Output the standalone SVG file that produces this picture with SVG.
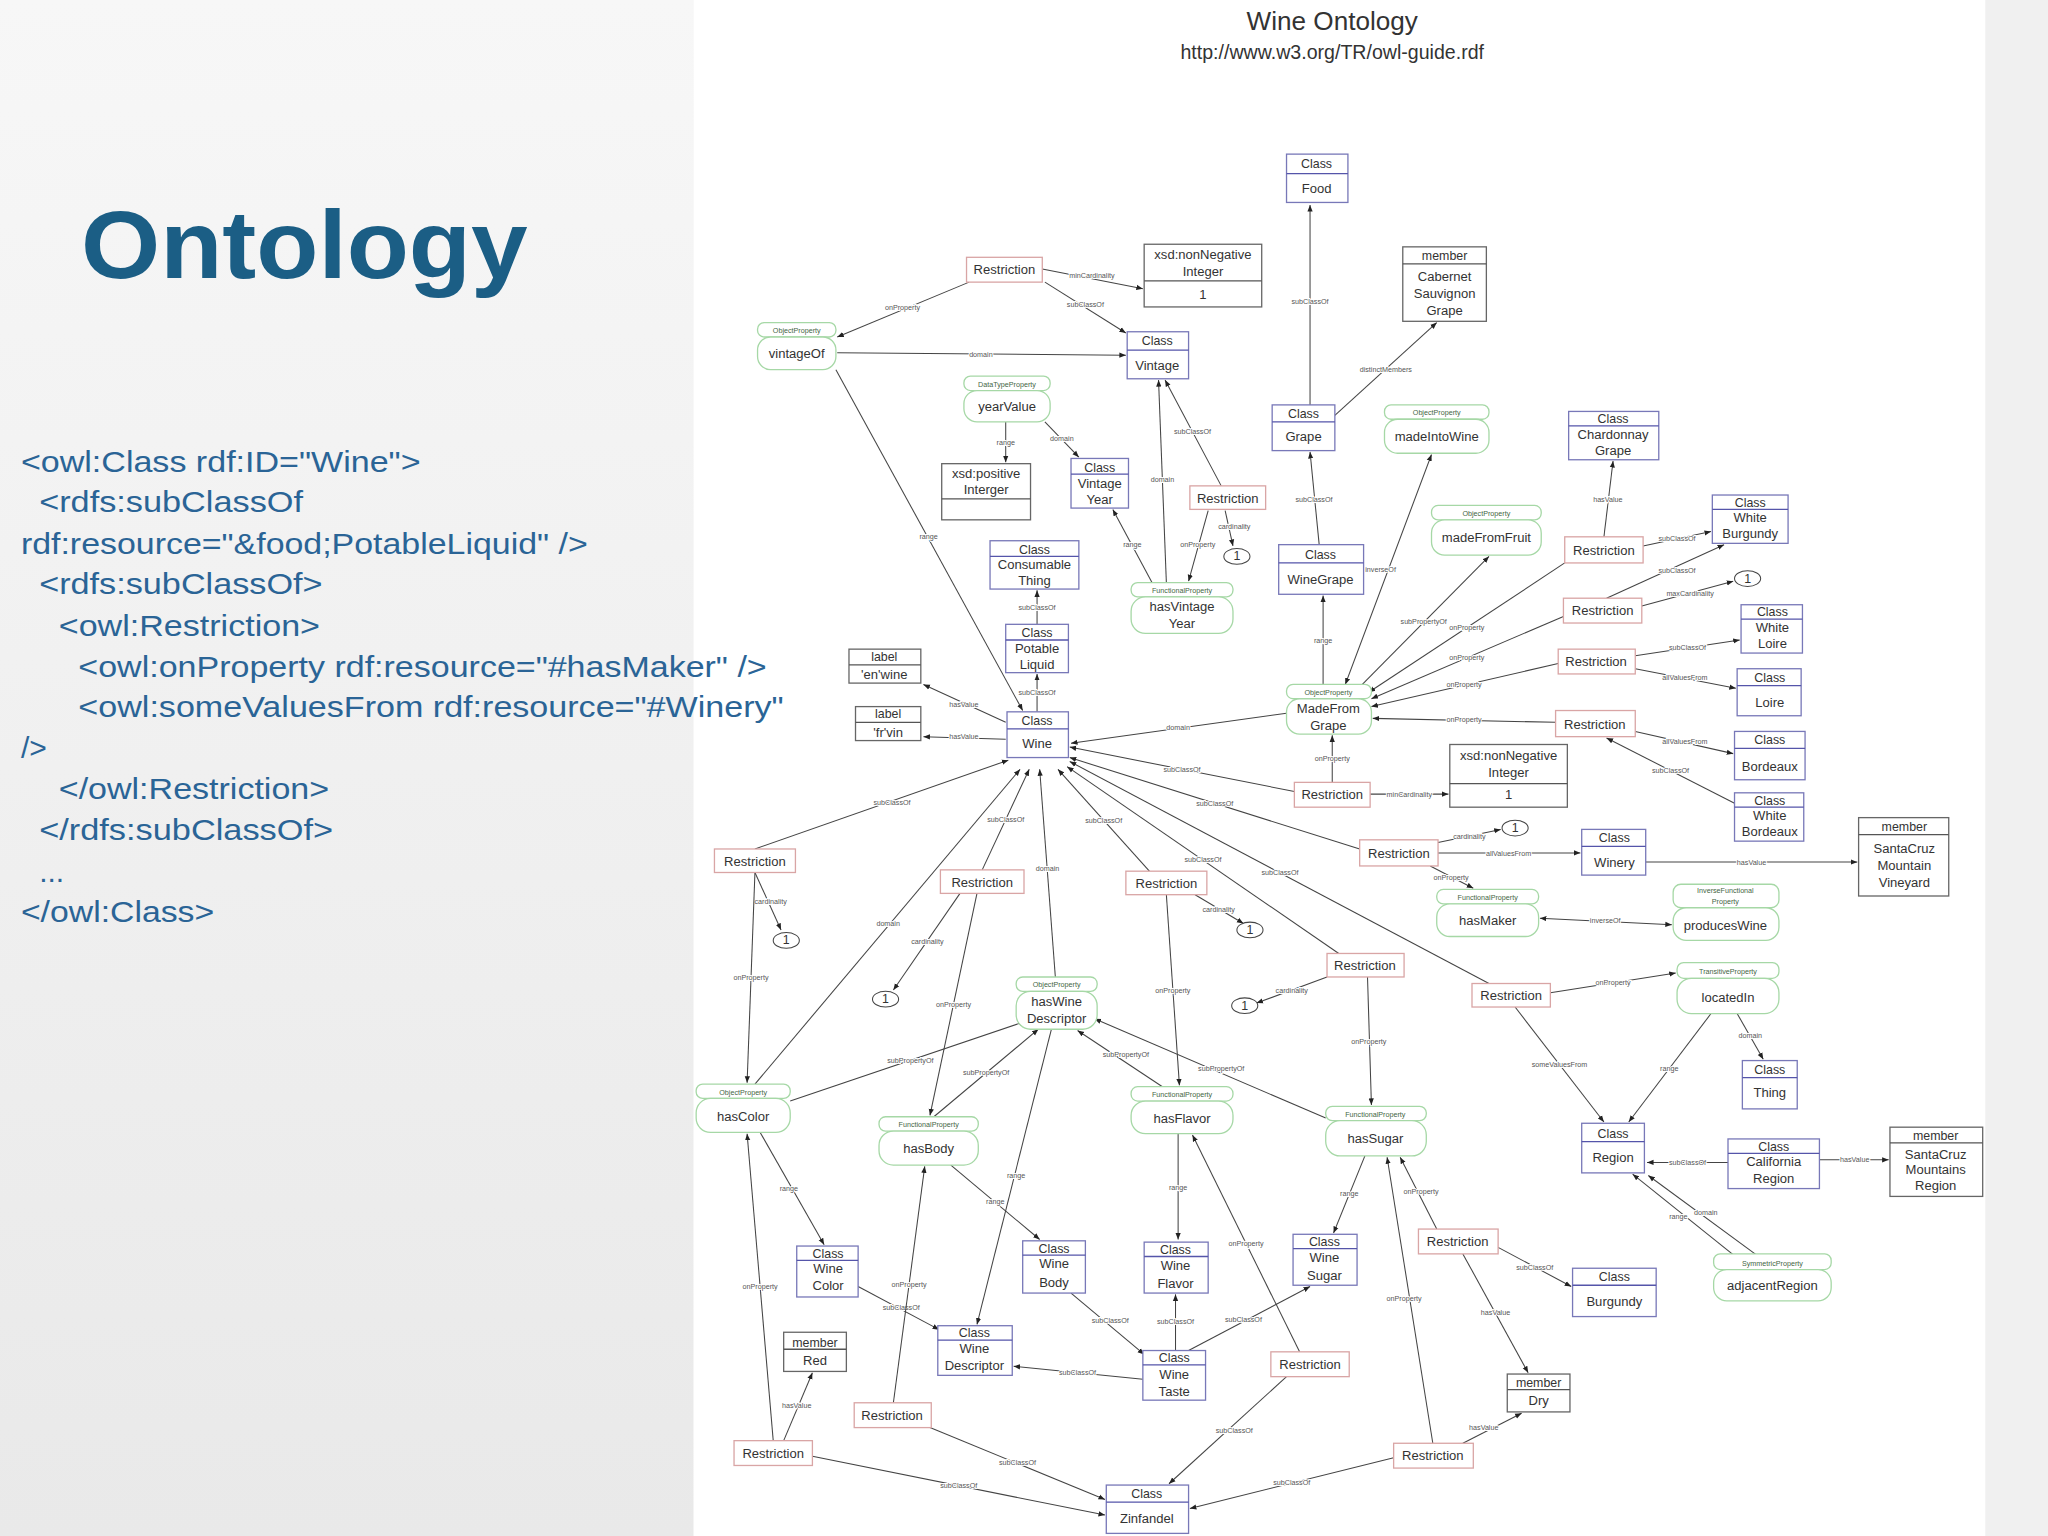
<svg xmlns="http://www.w3.org/2000/svg" width="2048" height="1536" viewBox="0 0 2048 1536">
<defs>
<linearGradient id="bg" x1="0" y1="0" x2="0" y2="1"><stop offset="0" stop-color="#f7f7f7"/><stop offset="1" stop-color="#e9e9e9"/></linearGradient>
<marker id="a" viewBox="0 0 10 10" refX="10" refY="5" markerWidth="5" markerHeight="5" orient="auto-start-reverse" markerUnits="userSpaceOnUse"><path d="M0,1 L10,5 L0,9 z" fill="#222"/></marker>
<style>
.c{fill:#fff;stroke:#7878b8;stroke-width:1}
.cd{stroke:#5555aa;stroke-width:1}
.l{fill:#fff;stroke:#666;stroke-width:1}
.ld{stroke:#555;stroke-width:1}
.r{fill:#fff;stroke:#d9a5a5;stroke-width:1}
.p{fill:#fff;stroke:#a6d8a6;stroke-width:1}
.o{fill:#fff;stroke:#444;stroke-width:0.8}
text{font-family:"Liberation Sans",Arial,sans-serif;text-anchor:middle;fill:#333}
.h{font-size:9.5px}
.t{font-size:10px}
.ph{font-size:5.5px;fill:#446644}
.e{font-size:5.5px;fill:#555;stroke:#fff;stroke-width:1.5px;paint-order:stroke}
.code{font-size:23px;fill:#2a6496;text-anchor:start;white-space:pre}
#edges line{stroke:#444;stroke-width:0.8;marker-end:url(#a)}
</style>
</defs>
<g transform="scale(1.306122)">
<rect x="0" y="0" width="1568" height="1176" fill="#f0f0f0"/>
<rect x="0" y="0" width="531" height="1176" fill="url(#bg)"/>
<rect x="531" y="0" width="989" height="1176" fill="#fff"/>
<text x="62" y="213" textLength="342" lengthAdjust="spacingAndGlyphs" style="font-size:74px;font-weight:bold;fill:#1b5e85;text-anchor:start">Ontology</text>
<g id="code">
<text class="code" x="16" y="361" textLength="306" lengthAdjust="spacingAndGlyphs">&lt;owl:Class rdf:ID="Wine"&gt;</text>
<text class="code" x="30" y="392" textLength="202" lengthAdjust="spacingAndGlyphs">&lt;rdfs:subClassOf</text>
<text class="code" x="16" y="424" textLength="434" lengthAdjust="spacingAndGlyphs">rdf:resource="&amp;food;PotableLiquid" /&gt;</text>
<text class="code" x="30" y="455" textLength="217" lengthAdjust="spacingAndGlyphs">&lt;rdfs:subClassOf&gt;</text>
<text class="code" x="45" y="487" textLength="200" lengthAdjust="spacingAndGlyphs">&lt;owl:Restriction&gt;</text>
<text class="code" x="60" y="518" textLength="527" lengthAdjust="spacingAndGlyphs">&lt;owl:onProperty rdf:resource="#hasMaker" /&gt;</text>
<text class="code" x="60" y="549" textLength="540" lengthAdjust="spacingAndGlyphs">&lt;owl:someValuesFrom rdf:resource="#Winery"</text>
<text class="code" x="16" y="580">/&gt;</text>
<text class="code" x="45" y="612" textLength="207" lengthAdjust="spacingAndGlyphs">&lt;/owl:Restriction&gt;</text>
<text class="code" x="30" y="643" textLength="225" lengthAdjust="spacingAndGlyphs">&lt;/rdfs:subClassOf&gt;</text>
<text class="code" x="30" y="675">...</text>
<text class="code" x="16" y="706" textLength="148" lengthAdjust="spacingAndGlyphs">&lt;/owl:Class&gt;</text>
</g>
<text x="1020" y="23" style="font-size:20px;fill:#333">Wine Ontology</text>
<text x="1020" y="45" style="font-size:15px;fill:#333">http://www.w3.org/TR/owl-guide.rdf</text>

<g id="edges">
<line x1="1003" y1="310" x2="1003" y2="157"/><text class="e" x="1003" y="233">subClassOf</text>
<line x1="742" y1="216" x2="641" y2="258"/><text class="e" x="691" y="237">onProperty</text>
<line x1="798" y1="206" x2="875" y2="221"/><text class="e" x="836" y="213">minCardinality</text>
<line x1="800" y1="216" x2="862" y2="255"/><text class="e" x="831" y="235">subClassOf</text>
<line x1="641" y1="270" x2="862" y2="272"/><text class="e" x="751" y="273">domain</text>
<line x1="640" y1="283" x2="783" y2="544"/><text class="e" x="711" y="413">range</text>
<line x1="770" y1="323" x2="770" y2="354"/><text class="e" x="770" y="341">range</text>
<line x1="800" y1="323" x2="826" y2="350"/><text class="e" x="813" y="338">domain</text>
<line x1="893" y1="446" x2="887" y2="291"/><text class="e" x="890" y="369">domain</text>
<line x1="935" y1="372" x2="892" y2="291"/><text class="e" x="913" y="332">subClassOf</text>
<line x1="882" y1="446" x2="852" y2="390"/><text class="e" x="867" y="419">range</text>
<line x1="925" y1="391" x2="910" y2="445"/><text class="e" x="917" y="419">onProperty</text>
<line x1="938" y1="391" x2="944" y2="418"/><text class="e" x="945" y="405">cardinality</text>
<line x1="794" y1="478" x2="794" y2="452"/><text class="e" x="794" y="467">subClassOf</text>
<line x1="794" y1="545" x2="794" y2="516"/><text class="e" x="794" y="532">subClassOf</text>
<line x1="770" y1="553" x2="707" y2="524"/><text class="e" x="738" y="541">hasValue</text>
<line x1="770" y1="566" x2="707" y2="564"/><text class="e" x="738" y="566">hasValue</text>
<line x1="1022" y1="318" x2="1100" y2="247"/><text class="e" x="1061" y="285">distinctMembers</text>
<line x1="1010" y1="417" x2="1003" y2="346"/><text class="e" x="1006" y="384">subClassOf</text>
<line x1="1013" y1="524" x2="1013" y2="456"/><text class="e" x="1013" y="492">range</text>
<line x1="1030" y1="524" x2="1096" y2="348" marker-start="url(#a)"/><text class="e" x="1057" y="438">inverseOf</text>
<line x1="1040" y1="527" x2="1140" y2="426"/><text class="e" x="1090" y="478">subPropertyOf</text>
<line x1="1198" y1="431" x2="1048" y2="530"/><text class="e" x="1123" y="482">onProperty</text>
<line x1="1228" y1="411" x2="1235" y2="353"/><text class="e" x="1231" y="384">hasValue</text>
<line x1="1258" y1="418" x2="1310" y2="407"/><text class="e" x="1284" y="414">subClassOf</text>
<line x1="1197" y1="472" x2="1050" y2="535"/><text class="e" x="1123" y="505">onProperty</text>
<line x1="1230" y1="458" x2="1320" y2="417"/><text class="e" x="1284" y="439">subClassOf</text>
<line x1="1257" y1="464" x2="1327" y2="445"/><text class="e" x="1294" y="456">maxCardinality</text>
<line x1="1193" y1="508" x2="1050" y2="541"/><text class="e" x="1121" y="526">onProperty</text>
<line x1="1252" y1="502" x2="1332" y2="490"/><text class="e" x="1292" y="498">subClassOf</text>
<line x1="1252" y1="512" x2="1329" y2="527"/><text class="e" x="1290" y="521">allValuesFrom</text>
<line x1="1191" y1="553" x2="1051" y2="550"/><text class="e" x="1121" y="553">onProperty</text>
<line x1="1252" y1="560" x2="1327" y2="577"/><text class="e" x="1290" y="570">allValuesFrom</text>
<line x1="1328" y1="615" x2="1230" y2="565"/><text class="e" x="1279" y="592">subClassOf</text>
<line x1="1020" y1="599" x2="1020" y2="563"/><text class="e" x="1020" y="583">onProperty</text>
<line x1="1049" y1="608" x2="1109" y2="608"/><text class="e" x="1079" y="610">minCardinality</text>
<line x1="991" y1="606" x2="819" y2="572"/><text class="e" x="905" y="591">subClassOf</text>
<line x1="985" y1="546" x2="820" y2="569"/><text class="e" x="902" y="559">domain</text>
<line x1="1041" y1="650" x2="819" y2="580"/><text class="e" x="930" y="617">subClassOf</text>
<line x1="1101" y1="645" x2="1149" y2="635"/><text class="e" x="1125" y="642">cardinality</text>
<line x1="1101" y1="653" x2="1210" y2="653"/><text class="e" x="1155" y="655">allValuesFrom</text>
<line x1="1095" y1="663" x2="1128" y2="680"/><text class="e" x="1111" y="674">onProperty</text>
<line x1="1260" y1="660" x2="1422" y2="660"/><text class="e" x="1341" y="662">hasValue</text>
<line x1="1179" y1="703" x2="1280" y2="708" marker-start="url(#a)"/><text class="e" x="1229" y="707">inverseOf</text>
<line x1="1140" y1="753" x2="819" y2="583"/><text class="e" x="980" y="670">subClassOf</text>
<line x1="1187" y1="760" x2="1283" y2="745"/><text class="e" x="1235" y="754">onProperty</text>
<line x1="1160" y1="771" x2="1228" y2="859"/><text class="e" x="1194" y="817">someValuesFrom</text>
<line x1="1310" y1="776" x2="1247" y2="859"/><text class="e" x="1278" y="820">range</text>
<line x1="1330" y1="776" x2="1350" y2="811"/><text class="e" x="1340" y="795">domain</text>
<line x1="1323" y1="890" x2="1261" y2="890"/><text class="e" x="1292" y="892">subClassOf</text>
<line x1="1393" y1="888" x2="1446" y2="888"/><text class="e" x="1420" y="890">hasValue</text>
<line x1="1330" y1="963" x2="1250" y2="899"/><text class="e" x="1285" y="933">range</text>
<line x1="1345" y1="961" x2="1262" y2="900"/><text class="e" x="1306" y="930">domain</text>
<line x1="1025" y1="730" x2="817" y2="587"/><text class="e" x="921" y="660">subClassOf</text>
<line x1="1016" y1="748" x2="962" y2="768"/><text class="e" x="989" y="760">cardinality</text>
<line x1="1047" y1="748" x2="1050" y2="846"/><text class="e" x="1048" y="799">onProperty</text>
<line x1="880" y1="667" x2="810" y2="589"/><text class="e" x="845" y="630">subClassOf</text>
<line x1="915" y1="685" x2="952" y2="707"/><text class="e" x="933" y="698">cardinality</text>
<line x1="893" y1="685" x2="903" y2="831"/><text class="e" x="898" y="760">onProperty</text>
<line x1="752" y1="666" x2="788" y2="589"/><text class="e" x="770" y="629">subClassOf</text>
<line x1="735" y1="684" x2="684" y2="758"/><text class="e" x="710" y="723">cardinality</text>
<line x1="748" y1="684" x2="712" y2="854"/><text class="e" x="730" y="771">onProperty</text>
<line x1="578" y1="650" x2="772" y2="582"/><text class="e" x="683" y="616">subClassOf</text>
<line x1="578" y1="668" x2="598" y2="712"/><text class="e" x="590" y="692">cardinality</text>
<line x1="578" y1="668" x2="572" y2="829"/><text class="e" x="575" y="750">onProperty</text>
<line x1="578" y1="830" x2="781" y2="589"/><text class="e" x="680" y="709">domain</text>
<line x1="808" y1="748" x2="796" y2="589"/><text class="e" x="802" y="667">domain</text>
<line x1="605" y1="843" x2="785" y2="782"/><text class="e" x="697" y="814">subPropertyOf</text>
<line x1="715" y1="855" x2="795" y2="788"/><text class="e" x="755" y="823">subPropertyOf</text>
<line x1="890" y1="832" x2="825" y2="789"/><text class="e" x="862" y="809">subPropertyOf</text>
<line x1="1015" y1="856" x2="838" y2="780"/><text class="e" x="935" y="820">subPropertyOf</text>
<line x1="805" y1="788" x2="748" y2="1014"/><text class="e" x="778" y="902">range</text>
<line x1="582" y1="867" x2="631" y2="953"/><text class="e" x="604" y="912">range</text>
<line x1="728" y1="892" x2="796" y2="949"/><text class="e" x="762" y="922">range</text>
<line x1="902" y1="868" x2="902" y2="949"/><text class="e" x="902" y="911">range</text>
<line x1="1045" y1="885" x2="1021" y2="944"/><text class="e" x="1033" y="916">range</text>
<line x1="657" y1="985" x2="719" y2="1018"/><text class="e" x="690" y="1003">subClassOf</text>
<line x1="875" y1="1056" x2="776" y2="1046"/><text class="e" x="825" y="1053">subClassOf</text>
<line x1="820" y1="990" x2="876" y2="1037"/><text class="e" x="850" y="1013">subClassOf</text>
<line x1="900" y1="1034" x2="900" y2="991"/><text class="e" x="900" y="1014">subClassOf</text>
<line x1="910" y1="1034" x2="1003" y2="985"/><text class="e" x="952" y="1012">subClassOf</text>
<line x1="592" y1="1103" x2="572" y2="868"/><text class="e" x="582" y="987">onProperty</text>
<line x1="600" y1="1103" x2="622" y2="1051"/><text class="e" x="610" y="1078">hasValue</text>
<line x1="622" y1="1115" x2="846" y2="1160"/><text class="e" x="734" y="1139">subClassOf</text>
<line x1="684" y1="1074" x2="708" y2="893"/><text class="e" x="696" y="985">onProperty</text>
<line x1="712" y1="1093" x2="846" y2="1148"/><text class="e" x="779" y="1122">subClassOf</text>
<line x1="995" y1="1035" x2="913" y2="869"/><text class="e" x="954" y="954">onProperty</text>
<line x1="985" y1="1054" x2="895" y2="1136"/><text class="e" x="945" y="1097">subClassOf</text>
<line x1="1097" y1="1105" x2="1062" y2="886"/><text class="e" x="1075" y="996">onProperty</text>
<line x1="1067" y1="1116" x2="911" y2="1155"/><text class="e" x="989" y="1137">subClassOf</text>
<line x1="1100" y1="941" x2="1072" y2="886"/><text class="e" x="1088" y="914">onProperty</text>
<line x1="1147" y1="955" x2="1203" y2="985"/><text class="e" x="1175" y="972">subClassOf</text>
<line x1="1120" y1="960" x2="1170" y2="1051"/><text class="e" x="1145" y="1007">hasValue</text>
<line x1="1120" y1="1105" x2="1165" y2="1082"/><text class="e" x="1136" y="1095">hasValue</text>
</g>

<g id="nodes">
<g id="food"><rect class="c" x="985" y="118" width="47" height="37"/><line class="cd" x1="985" y1="133" x2="1032" y2="133"/><text class="h" x="1008" y="129">Class</text><text class="t" x="1008" y="148">Food</text></g>
<g id="r-vintage"><rect class="r" x="740" y="197" width="58" height="19"/><text class="t" x="769" y="210">Restriction</text></g>
<g id="nni1"><rect class="l" x="876" y="187" width="90" height="48"/><line class="ld" x1="876" y1="215" x2="966" y2="215"/><text class="t" x="921" y="198">xsd:nonNegative</text><text class="t" x="921" y="211">Integer</text><text class="t" x="921" y="229">1</text></g>
<g id="cabernet"><rect class="l" x="1074" y="189" width="64" height="57"/><line class="ld" x1="1074" y1="202" x2="1138" y2="202"/><text class="h" x="1106" y="199">member</text><text class="t" x="1106" y="215">Cabernet</text><text class="t" x="1106" y="228">Sauvignon</text><text class="t" x="1106" y="241">Grape</text></g>
<g id="vintageOf"><rect class="p" x="580" y="247" width="60" height="11" rx="5"/><text class="ph" x="610" y="255">ObjectProperty</text><rect class="p" x="580" y="258" width="60" height="25" rx="10"/><text class="t" x="610" y="274">vintageOf</text></g>
<g id="vintage"><rect class="c" x="863" y="254" width="47" height="36"/><line class="cd" x1="863" y1="268" x2="910" y2="268"/><text class="h" x="886" y="264">Class</text><text class="t" x="886" y="283">Vintage</text></g>
<g id="yearValue"><rect class="p" x="738" y="288" width="66" height="11" rx="5"/><text class="ph" x="771" y="296">DataTypeProperty</text><rect class="p" x="738" y="299" width="66" height="24" rx="10"/><text class="t" x="771" y="315">yearValue</text></g>
<g id="posint"><rect class="l" x="721" y="355" width="68" height="43"/><line class="ld" x1="721" y1="382" x2="789" y2="382"/><text class="t" x="755" y="366">xsd:positive</text><text class="t" x="755" y="378">Interger</text></g>
<g id="vintageYear"><rect class="c" x="820" y="351" width="44" height="38"/><line class="cd" x1="820" y1="363" x2="864" y2="363"/><text class="h" x="842" y="361">Class</text><text class="t" x="842" y="374">Vintage</text><text class="t" x="842" y="386">Year</text></g>
<g id="r-vy"><rect class="r" x="911" y="372" width="58" height="18"/><text class="t" x="940" y="385">Restriction</text></g>
<g id="one1"><ellipse class="o" cx="947" cy="426" rx="10" ry="6"/><text class="h" x="947" y="429">1</text></g>
<g id="hasVintageYear"><rect class="p" x="866" y="446" width="78" height="11" rx="5"/><text class="ph" x="905" y="454">FunctionalProperty</text><rect class="p" x="866" y="457" width="78" height="28" rx="11"/><text class="t" x="905" y="468">hasVintage</text><text class="t" x="905" y="481">Year</text></g>
<g id="consumable"><rect class="c" x="758" y="414" width="68" height="37"/><line class="cd" x1="758" y1="426" x2="826" y2="426"/><text class="h" x="792" y="424">Class</text><text class="t" x="792" y="436">Consumable</text><text class="t" x="792" y="448">Thing</text></g>
<g id="potable"><rect class="c" x="770" y="478" width="48" height="37"/><line class="cd" x1="770" y1="490" x2="818" y2="490"/><text class="h" x="794" y="488">Class</text><text class="t" x="794" y="500">Potable</text><text class="t" x="794" y="512">Liquid</text></g>
<g id="label-en"><rect class="l" x="650" y="497" width="55" height="26"/><line class="ld" x1="650" y1="509" x2="705" y2="509"/><text class="h" x="677" y="506">label</text><text class="t" x="677" y="520">'en'wine</text></g>
<g id="label-fr"><rect class="l" x="655" y="541" width="50" height="26"/><line class="ld" x1="655" y1="553" x2="705" y2="553"/><text class="h" x="680" y="550">label</text><text class="t" x="680" y="564">'fr'vin</text></g>
<g id="wine"><rect class="c" x="771" y="545" width="47" height="35"/><line class="cd" x1="771" y1="558" x2="818" y2="558"/><text class="h" x="794" y="555">Class</text><text class="t" x="794" y="573">Wine</text></g>
<g id="grape"><rect class="c" x="974" y="310" width="48" height="35"/><line class="cd" x1="974" y1="323" x2="1022" y2="323"/><text class="h" x="998" y="320">Class</text><text class="t" x="998" y="338">Grape</text></g>
<g id="madeIntoWine"><rect class="p" x="1060" y="310" width="80" height="11" rx="5"/><text class="ph" x="1100" y="318">ObjectProperty</text><rect class="p" x="1060" y="321" width="80" height="26" rx="10"/><text class="t" x="1100" y="338">madeIntoWine</text></g>
<g id="chardonnay"><rect class="c" x="1201" y="315" width="69" height="37"/><line class="cd" x1="1201" y1="326" x2="1270" y2="326"/><text class="h" x="1235" y="324">Class</text><text class="t" x="1235" y="336">Chardonnay</text><text class="t" x="1235" y="348">Grape</text></g>
<g id="wineGrape"><rect class="c" x="979" y="417" width="65" height="38"/><line class="cd" x1="979" y1="431" x2="1044" y2="431"/><text class="h" x="1011" y="428">Class</text><text class="t" x="1011" y="447">WineGrape</text></g>
<g id="madeFromFruit"><rect class="p" x="1096" y="387" width="84" height="11" rx="5"/><text class="ph" x="1138" y="395">ObjectProperty</text><rect class="p" x="1096" y="398" width="84" height="27" rx="10"/><text class="t" x="1138" y="415">madeFromFruit</text></g>
<g id="whiteBurgundy"><rect class="c" x="1311" y="379" width="58" height="37"/><line class="cd" x1="1311" y1="390" x2="1369" y2="390"/><text class="h" x="1340" y="388">Class</text><text class="t" x="1340" y="400">White</text><text class="t" x="1340" y="412">Burgundy</text></g>
<g id="r-wb"><rect class="r" x="1198" y="411" width="60" height="20"/><text class="t" x="1228" y="425">Restriction</text></g>
<g id="one2"><ellipse class="o" cx="1338" cy="443" rx="10" ry="6"/><text class="h" x="1338" y="446">1</text></g>
<g id="r-max"><rect class="r" x="1197" y="458" width="60" height="19"/><text class="t" x="1227" y="471">Restriction</text></g>
<g id="whiteLoire"><rect class="c" x="1333" y="463" width="47" height="37"/><line class="cd" x1="1333" y1="474" x2="1380" y2="474"/><text class="h" x="1357" y="472">Class</text><text class="t" x="1357" y="484">White</text><text class="t" x="1357" y="496">Loire</text></g>
<g id="r-wl"><rect class="r" x="1193" y="497" width="59" height="19"/><text class="t" x="1222" y="510">Restriction</text></g>
<g id="loire"><rect class="c" x="1330" y="512" width="49" height="36"/><line class="cd" x1="1330" y1="525" x2="1379" y2="525"/><text class="h" x="1355" y="522">Class</text><text class="t" x="1355" y="541">Loire</text></g>
<g id="madeFromGrape"><rect class="p" x="985" y="524" width="65" height="11" rx="5"/><text class="ph" x="1017" y="532">ObjectProperty</text><rect class="p" x="985" y="535" width="65" height="27" rx="10"/><text class="t" x="1017" y="546">MadeFrom</text><text class="t" x="1017" y="559">Grape</text></g>
<g id="r-bord"><rect class="r" x="1191" y="544" width="61" height="20"/><text class="t" x="1221" y="558">Restriction</text></g>
<g id="bordeaux"><rect class="c" x="1328" y="560" width="54" height="37"/><line class="cd" x1="1328" y1="573" x2="1382" y2="573"/><text class="h" x="1355" y="570">Class</text><text class="t" x="1355" y="590">Bordeaux</text></g>
<g id="whiteBordeaux"><rect class="c" x="1328" y="607" width="53" height="37"/><line class="cd" x1="1328" y1="618" x2="1381" y2="618"/><text class="h" x="1355" y="616">Class</text><text class="t" x="1355" y="628">White</text><text class="t" x="1355" y="640">Bordeaux</text></g>
<g id="r-mfg"><rect class="r" x="991" y="599" width="58" height="19"/><text class="t" x="1020" y="612">Restriction</text></g>
<g id="nni2"><rect class="l" x="1110" y="570" width="90" height="48"/><line class="ld" x1="1110" y1="600" x2="1200" y2="600"/><text class="t" x="1155" y="582">xsd:nonNegative</text><text class="t" x="1155" y="595">Integer</text><text class="t" x="1155" y="612">1</text></g>
<g id="r-maker"><rect class="r" x="1041" y="643" width="60" height="20"/><text class="t" x="1071" y="657">Restriction</text></g>
<g id="one3"><ellipse class="o" cx="1160" cy="634" rx="10" ry="6"/><text class="h" x="1160" y="637">1</text></g>
<g id="winery"><rect class="c" x="1211" y="635" width="49" height="35"/><line class="cd" x1="1211" y1="648" x2="1260" y2="648"/><text class="h" x="1236" y="645">Class</text><text class="t" x="1236" y="664">Winery</text></g>
<g id="scVineyard"><rect class="l" x="1423" y="626" width="69" height="60"/><line class="ld" x1="1423" y1="639" x2="1492" y2="639"/><text class="h" x="1458" y="636">member</text><text class="t" x="1458" y="653">SantaCruz</text><text class="t" x="1458" y="666">Mountain</text><text class="t" x="1458" y="679">Vineyard</text></g>
<g id="hasMaker"><rect class="p" x="1100" y="681" width="78" height="11" rx="5"/><text class="ph" x="1139" y="689">FunctionalProperty</text><rect class="p" x="1100" y="692" width="78" height="25" rx="10"/><text class="t" x="1139" y="708">hasMaker</text></g>
<g id="producesWine"><rect class="p" x="1281" y="677" width="81" height="18" rx="6"/><text class="ph" x="1321" y="684">InverseFunctional</text><text class="ph" x="1321" y="692">Property</text><rect class="p" x="1281" y="695" width="81" height="25" rx="10"/><text class="t" x="1321" y="712">producesWine</text></g>
<g id="r-color"><rect class="r" x="547" y="650" width="62" height="18"/><text class="t" x="578" y="663">Restriction</text></g>
<g id="one4"><ellipse class="o" cx="602" cy="720" rx="10" ry="6"/><text class="h" x="602" y="723">1</text></g>
<g id="r-body"><rect class="r" x="720" y="666" width="64" height="18"/><text class="t" x="752" y="679">Restriction</text></g>
<g id="one5"><ellipse class="o" cx="678" cy="765" rx="10" ry="6"/><text class="h" x="678" y="768">1</text></g>
<g id="r-flavor"><rect class="r" x="862" y="667" width="62" height="18"/><text class="t" x="893" y="680">Restriction</text></g>
<g id="one6"><ellipse class="o" cx="957" cy="712" rx="10" ry="6"/><text class="h" x="957" y="715">1</text></g>
<g id="r-sugar"><rect class="r" x="1016" y="730" width="59" height="18"/><text class="t" x="1045" y="743">Restriction</text></g>
<g id="one7"><ellipse class="o" cx="953" cy="770" rx="10" ry="6"/><text class="h" x="953" y="773">1</text></g>
<g id="r-loc"><rect class="r" x="1127" y="753" width="60" height="18"/><text class="t" x="1157" y="766">Restriction</text></g>
<g id="locatedIn"><rect class="p" x="1284" y="737" width="78" height="12" rx="5"/><text class="ph" x="1323" y="746">TransitiveProperty</text><rect class="p" x="1284" y="749" width="78" height="27" rx="11"/><text class="t" x="1323" y="767">locatedIn</text></g>
<g id="hasWineDescriptor"><rect class="p" x="778" y="748" width="62" height="11" rx="5"/><text class="ph" x="809" y="756">ObjectProperty</text><rect class="p" x="778" y="759" width="62" height="29" rx="11"/><text class="t" x="809" y="770">hasWine</text><text class="t" x="809" y="783">Descriptor</text></g>
<g id="thing"><rect class="c" x="1334" y="812" width="42" height="37"/><line class="cd" x1="1334" y1="825" x2="1376" y2="825"/><text class="h" x="1355" y="822">Class</text><text class="t" x="1355" y="840">Thing</text></g>
<g id="hasColor"><rect class="p" x="533" y="830" width="72" height="11" rx="5"/><text class="ph" x="569" y="838">ObjectProperty</text><rect class="p" x="533" y="841" width="72" height="26" rx="11"/><text class="t" x="569" y="858">hasColor</text></g>
<g id="hasBody"><rect class="p" x="673" y="855" width="76" height="11" rx="5"/><text class="ph" x="711" y="863">FunctionalProperty</text><rect class="p" x="673" y="866" width="76" height="26" rx="11"/><text class="t" x="711" y="883">hasBody</text></g>
<g id="hasFlavor"><rect class="p" x="866" y="832" width="78" height="11" rx="5"/><text class="ph" x="905" y="840">FunctionalProperty</text><rect class="p" x="866" y="843" width="78" height="25" rx="11"/><text class="t" x="905" y="860">hasFlavor</text></g>
<g id="hasSugar"><rect class="p" x="1015" y="847" width="77" height="11" rx="5"/><text class="ph" x="1053" y="855">FunctionalProperty</text><rect class="p" x="1015" y="858" width="77" height="27" rx="11"/><text class="t" x="1053" y="875">hasSugar</text></g>
<g id="region"><rect class="c" x="1211" y="860" width="48" height="38"/><line class="cd" x1="1211" y1="874" x2="1259" y2="874"/><text class="h" x="1235" y="871">Class</text><text class="t" x="1235" y="890">Region</text></g>
<g id="california"><rect class="c" x="1323" y="872" width="70" height="38"/><line class="cd" x1="1323" y1="883" x2="1393" y2="883"/><text class="h" x="1358" y="881">Class</text><text class="t" x="1358" y="893">California</text><text class="t" x="1358" y="906">Region</text></g>
<g id="scRegion"><rect class="l" x="1447" y="863" width="71" height="53"/><line class="ld" x1="1447" y1="875" x2="1518" y2="875"/><text class="h" x="1482" y="873">member</text><text class="t" x="1482" y="887">SantaCruz</text><text class="t" x="1482" y="899">Mountains</text><text class="t" x="1482" y="911">Region</text></g>
<g id="wineColor"><rect class="c" x="610" y="954" width="47" height="39"/><line class="cd" x1="610" y1="965" x2="657" y2="965"/><text class="h" x="634" y="963">Class</text><text class="t" x="634" y="975">Wine</text><text class="t" x="634" y="988">Color</text></g>
<g id="wineBody"><rect class="c" x="783" y="950" width="48" height="40"/><line class="cd" x1="783" y1="961" x2="831" y2="961"/><text class="h" x="807" y="959">Class</text><text class="t" x="807" y="971">Wine</text><text class="t" x="807" y="985">Body</text></g>
<g id="wineFlavor"><rect class="c" x="876" y="951" width="49" height="39"/><line class="cd" x1="876" y1="962" x2="925" y2="962"/><text class="h" x="900" y="960">Class</text><text class="t" x="900" y="972">Wine</text><text class="t" x="900" y="986">Flavor</text></g>
<g id="wineSugar"><rect class="c" x="990" y="945" width="49" height="39"/><line class="cd" x1="990" y1="956" x2="1039" y2="956"/><text class="h" x="1014" y="954">Class</text><text class="t" x="1014" y="966">Wine</text><text class="t" x="1014" y="980">Sugar</text></g>
<g id="r-burg"><rect class="r" x="1086" y="941" width="61" height="19"/><text class="t" x="1116" y="954">Restriction</text></g>
<g id="burgundy"><rect class="c" x="1204" y="971" width="64" height="37"/><line class="cd" x1="1204" y1="984" x2="1268" y2="984"/><text class="h" x="1236" y="981">Class</text><text class="t" x="1236" y="1000">Burgundy</text></g>
<g id="adjacentRegion"><rect class="p" x="1312" y="960" width="90" height="12" rx="5"/><text class="ph" x="1357" y="969">SymmetricProperty</text><rect class="p" x="1312" y="972" width="90" height="24" rx="10"/><text class="t" x="1357" y="988">adjacentRegion</text></g>
<g id="red"><rect class="l" x="600" y="1020" width="48" height="30"/><line class="ld" x1="600" y1="1033" x2="648" y2="1033"/><text class="h" x="624" y="1031">member</text><text class="t" x="624" y="1045">Red</text></g>
<g id="wineDescriptor"><rect class="c" x="718" y="1015" width="57" height="38"/><line class="cd" x1="718" y1="1026" x2="775" y2="1026"/><text class="h" x="746" y="1024">Class</text><text class="t" x="746" y="1036">Wine</text><text class="t" x="746" y="1049">Descriptor</text></g>
<g id="wineTaste"><rect class="c" x="875" y="1034" width="48" height="38"/><line class="cd" x1="875" y1="1045" x2="923" y2="1045"/><text class="h" x="899" y="1043">Class</text><text class="t" x="899" y="1056">Wine</text><text class="t" x="899" y="1069">Taste</text></g>
<g id="r-zf"><rect class="r" x="973" y="1035" width="60" height="19"/><text class="t" x="1003" y="1048">Restriction</text></g>
<g id="dry"><rect class="l" x="1154" y="1052" width="48" height="29"/><line class="ld" x1="1154" y1="1064" x2="1202" y2="1064"/><text class="h" x="1178" y="1062">member</text><text class="t" x="1178" y="1076">Dry</text></g>
<g id="r-zb"><rect class="r" x="654" y="1074" width="59" height="19"/><text class="t" x="683" y="1087">Restriction</text></g>
<g id="r-zc"><rect class="r" x="562" y="1103" width="60" height="19"/><text class="t" x="592" y="1116">Restriction</text></g>
<g id="r-zs"><rect class="r" x="1067" y="1105" width="61" height="19"/><text class="t" x="1097" y="1118">Restriction</text></g>
<g id="zinfandel"><rect class="c" x="847" y="1137" width="63" height="37"/><line class="cd" x1="847" y1="1150" x2="910" y2="1150"/><text class="h" x="878" y="1147">Class</text><text class="t" x="878" y="1166">Zinfandel</text></g>
</g>
</g>
</svg>
